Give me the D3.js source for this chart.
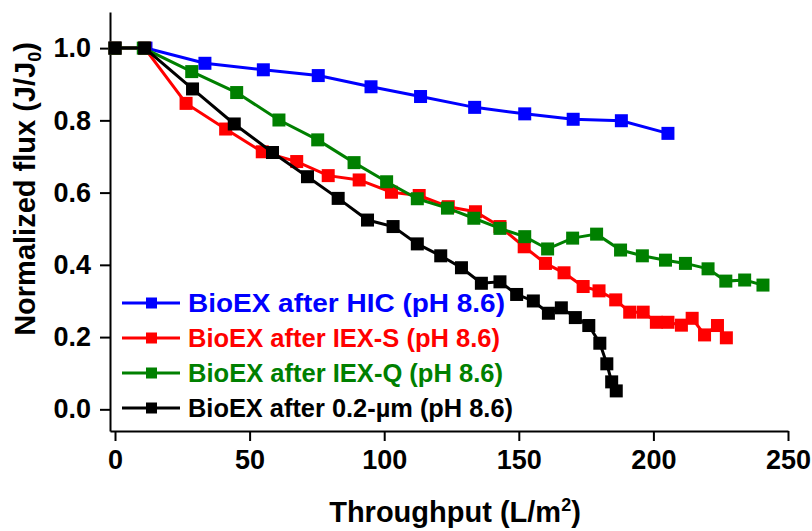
<!DOCTYPE html>
<html>
<head>
<meta charset="utf-8">
<script src="https://cdn.jsdelivr.net/npm/d3@7"></script>
<style>
  body { margin: 0; background: #fff; }
  svg text { font-family: "Liberation Sans", Arial, sans-serif; font-weight: bold; }
</style>
</head>
<body>
<svg id="chart" width="812" height="531"></svg>
<script>
// data
var hicX = [0, 11.5, 33.4, 55.1, 75.5, 95.1, 113.5, 133.6, 152.2, 170.2, 188.1, 205.4];
var hicY = [1, 1, 0.958, 0.940, 0.924, 0.893, 0.866, 0.836, 0.818, 0.803, 0.799, 0.764];

var iexsX = [0, 11, 26.4, 41.1, 54.7, 67.5, 79.2, 90.7, 102.7, 113.0, 123.8, 133.9, 143.0, 152.0, 159.9, 166.8, 173.9, 179.8, 186.0, 191.2, 196.2, 201.1, 205.4, 210.4, 214.4, 219.0, 223.8, 227.1];
var iexsY = [1, 1, 0.847, 0.776, 0.713, 0.686, 0.647, 0.635, 0.601, 0.592, 0.561, 0.547, 0.506, 0.450, 0.404, 0.378, 0.340, 0.328, 0.303, 0.269, 0.269, 0.241, 0.241, 0.233, 0.252, 0.206, 0.232, 0.198];

var iexqX = [0, 10.5, 28.5, 45.2, 60.9, 75.3, 88.8, 100.9, 112.3, 123.5, 133.3, 143.0, 152.2, 160.7, 170.0, 178.9, 187.8, 195.9, 204.5, 211.9, 220.3, 226.9, 233.9, 240.7];
var iexqY = [1, 1, 0.935, 0.877, 0.801, 0.746, 0.683, 0.630, 0.583, 0.557, 0.529, 0.501, 0.478, 0.444, 0.474, 0.485, 0.441, 0.425, 0.413, 0.404, 0.389, 0.355, 0.358, 0.344];

var memX = [0, 11, 28.8, 44.3, 58.5, 71.5, 82.9, 93.8, 103.3, 112.3, 121.0, 128.7, 136.1, 143.0, 149.2, 155.4, 161.0, 165.8, 171.0, 176.0, 180.1, 182.7, 184.5, 186.2];
var memY = [1, 1, 0.887, 0.790, 0.711, 0.644, 0.584, 0.524, 0.506, 0.458, 0.425, 0.392, 0.349, 0.353, 0.318, 0.300, 0.266, 0.281, 0.254, 0.232, 0.183, 0.126, 0.076, 0.051];

var seriesNames = ["BioEX after HIC (pH 8.6)", "BioEX after IEX-S (pH 8.6)", "BioEX after IEX-Q (pH 8.6)", "BioEX after 0.2-\u00b5m (pH 8.6)"];
var seriesColors = ["#0000ff", "#ff0000", "#008000", "#000000"];
var xTicks = [0, 50, 100, 150, 200, 250];
var yTicks = [0, 0.2, 0.4, 0.6, 0.8, 1.0];

// legend text widths as drawn in the original (style only)
var legendTextWidth = [317, 312, 315, 325];

var series = [
  {name: seriesNames[0], color: seriesColors[0], xs: hicX, ys: hicY},
  {name: seriesNames[1], color: seriesColors[1], xs: iexsX, ys: iexsY},
  {name: seriesNames[2], color: seriesColors[2], xs: iexqX, ys: iexqY},
  {name: seriesNames[3], color: seriesColors[3], xs: memX, ys: memY}
];

var svg = d3.select("#chart");
var x = d3.scaleLinear().domain([-1.86, 250]).range([110, 788]);
var y = d3.scaleLinear().domain([-0.06, 1.1]).range([431, 12]);

// axes
var xAxis = svg.append("g").attr("transform", "translate(0,431)")
  .call(d3.axisBottom(x).tickValues(xTicks).tickSize(10).tickSizeOuter(0).tickPadding(9).tickFormat(d3.format("d")));
var yAxis = svg.append("g").attr("transform", "translate(110,0)")
  .call(d3.axisLeft(y).tickValues(yTicks).tickSize(10).tickSizeOuter(0).tickPadding(9).tickFormat(d3.format(".1f")));

[xAxis, yAxis].forEach(function (a) {
  a.select(".domain").attr("stroke", "#000").attr("stroke-width", 2);
  a.selectAll(".tick line").attr("stroke", "#000").attr("stroke-width", 2);
  a.selectAll(".tick text").attr("fill", "#000").style("font-size", "27px");
});
xAxis.selectAll(".tick text").attr("dy", "0.72em");

// lines and markers
var line = d3.line().x(function (d) { return x(d[0]); }).y(function (d) { return y(d[1]); });
var ms = 13;
series.forEach(function (s) {
  var pts = s.xs.map(function (v, i) { return [v, s.ys[i]]; });
  var g = svg.append("g");
  g.append("path").datum(pts).attr("d", line)
    .attr("fill", "none").attr("stroke", s.color).attr("stroke-width", 3);
  g.selectAll("rect").data(pts).enter().append("rect")
    .attr("x", function (d) { return x(d[0]) - ms / 2; })
    .attr("y", function (d) { return y(d[1]) - ms / 2; })
    .attr("width", ms).attr("height", ms)
    .attr("fill", s.color);
});

// legend
var legend = svg.append("g");
series.forEach(function (s, i) {
  var ly = 303 + i * 35;
  legend.append("line").attr("x1", 122).attr("x2", 180).attr("y1", ly).attr("y2", ly)
    .attr("stroke", s.color).attr("stroke-width", 3);
  legend.append("rect").attr("x", 146).attr("y", ly - 5.5).attr("width", 11).attr("height", 11)
    .attr("fill", s.color);
  legend.append("text").attr("x", 188).attr("y", ly).attr("dy", "0.36em")
    .attr("fill", s.color).style("font-size", "26px")
    .attr("textLength", legendTextWidth[i]).attr("lengthAdjust", "spacingAndGlyphs")
    .text(s.name);
});

// axis titles
var xt = svg.append("text").attr("x", 455).attr("y", 522).attr("text-anchor", "middle")
  .style("font-size", "29px").attr("fill", "#000");
xt.append("tspan").text("Throughput (L/m");
xt.append("tspan").attr("dy", -11).style("font-size", "18px").text("2");
xt.append("tspan").attr("dy", 11).text(")");

var yt = svg.append("text").attr("transform", "translate(35,189) rotate(-90)").attr("text-anchor", "middle")
  .style("font-size", "29px").attr("fill", "#000");
yt.append("tspan").text("Normalized flux (J/J");
yt.append("tspan").attr("dy", 6).style("font-size", "18px").text("0");
yt.append("tspan").attr("dy", -6).text(")");
</script>
</body>
</html>
